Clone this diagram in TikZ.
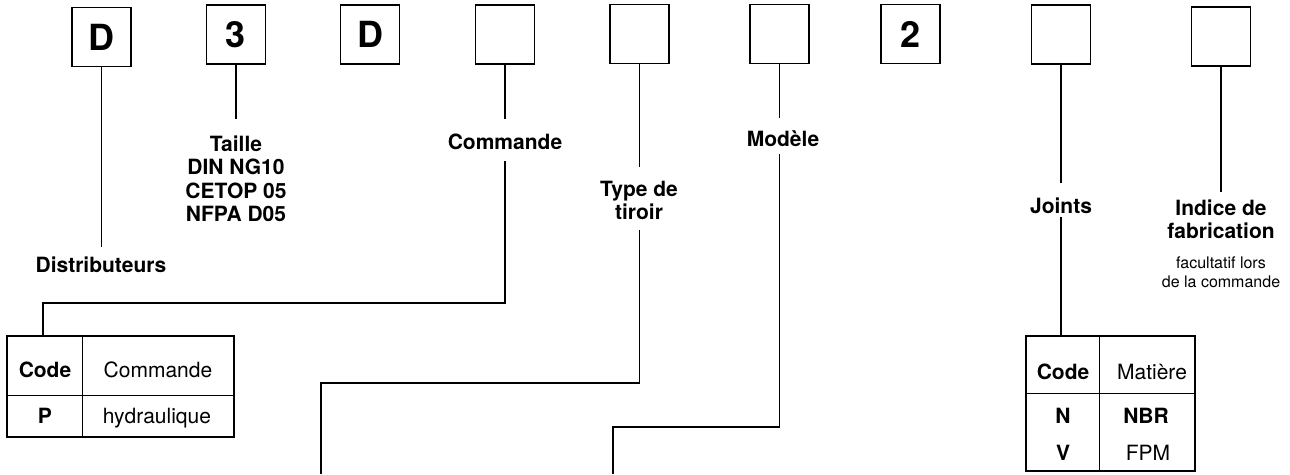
\documentclass[tikz,border=0pt]{standalone}
\usepackage{fontspec}
\setmainfont{TeX Gyre Heros}
\begin{document}
\begin{tikzpicture}[x=1pt,y=-1pt,
  codebox/.style={draw, line width=1.4pt, minimum width=59pt, minimum height=59pt, inner sep=0pt, font=\fontsize{36}{40}\selectfont\bfseries},
  lab/.style={inner sep=0pt, align=center, font=\fontsize{21}{23.5}\selectfont\bfseries},
  notelab/.style={inner sep=0pt, align=center, font=\fontsize{16}{19}\selectfont},
  conn/.style={line width=1.2pt},
  tabframe/.style={draw, line width=1.4pt, inner sep=0pt},
  tabline/.style={line width=1.4pt},
  cellb/.style={inner sep=0pt, anchor=base, font=\fontsize{21}{24}\selectfont\bfseries},
  cellr/.style={inner sep=0pt, anchor=base, font=\fontsize{21}{24}\selectfont}]
\useasboundingbox (0,0) rectangle (1290,474);

% code boxes
\node[codebox] (b1) at (101.5,37) {D};
\node[codebox] (b2) at (236,34.5) {3};
\node[codebox] (b3) at (370,34.5) {D};
\node[codebox] (b4) at (505,34.5) {};
\node[codebox] (b5) at (639.5,34) {};
\node[codebox] (b6) at (779.5,34) {};
\node[codebox] (b7) at (910.5,34) {2};
\node[codebox] (b8) at (1061,34.5) {};
\node[codebox] (b9) at (1221,36.5) {};

% labels
\node[lab, anchor=base] (dist) at (101,272.5) {Distributeurs};
\node[lab, anchor=north] (taille) at (236,135.5) {Taille\\DIN NG10\\CETOP 05\\NFPA D05};
\node[lab, anchor=base] (cmd) at (505,149.5) {Commande};
\node[lab, anchor=north] (tiroir) at (639,180.5) {Type de\\tiroir};
\node[lab, anchor=base] (modele) at (783,146.5) {Modèle};
\node[lab, anchor=base] (joints) at (1061,213.5) {Joints};
\node[lab, anchor=north] (indice) at (1221,199.2) {Indice de\\fabrication};
\node[notelab, anchor=north] (note) at (1221,256.8) {facultatif lors\\de la commande};

% tables
\node[tabframe, minimum width=227pt, minimum height=101pt] (tab1) at (120.5,386.5) {};
\draw[tabline] ([xshift=76pt]tab1.north west) -- ([xshift=76pt]tab1.south west);
\draw[tabline] ([yshift=-60pt]tab1.north west) -- ([yshift=-60pt]tab1.north east);
\node[cellb] (t1c) at (45,377.5) {Code};
\node[cellr] (t1h) at (158,377.5) {Commande};
\node[cellb] (t1p) at (45,423) {P};
\node[cellr] (t1v) at (157,423) {hydraulique};

\node[tabframe, minimum width=169pt, minimum height=135pt] (tab2) at (1110.5,403.5) {};
\draw[tabline] ([xshift=74pt]tab2.north west) -- ([xshift=74pt]tab2.south west);
\draw[tabline] ([yshift=-58pt]tab2.north west) -- ([yshift=-58pt]tab2.north east);
\node[cellb] (t2c) at (1063,379.5) {Code};
\node[cellr] (t2h) at (1152,379.5) {Matière};
\node[cellb] (t2n) at (1063,423) {N};
\node[cellb] (t2nv) at (1146,423) {NBR};
\node[cellb] (t2v) at (1063,460) {V};
\node[cellr] (t2vv) at (1148,460) {FPM};

% connector end points
\coordinate (e1) at (101.5,247);
\coordinate (e2) at (236,119);
\coordinate (e4a) at (505,119);
\coordinate (e4b) at (505,161);
\coordinate (k4a) at (505,303);
\coordinate (k4b) at (43,303);
\coordinate (e5a) at (639.5,167);
\coordinate (e5b) at (639.5,230);
\coordinate (k5a) at (639.5,383);
\coordinate (k5b) at (321,383);
\coordinate (k5c) at (321,474);
\coordinate (e6a) at (779.5,118);
\coordinate (e6b) at (779.5,154);
\coordinate (k6a) at (779.5,427);
\coordinate (k6b) at (613,427);
\coordinate (k6c) at (613,474);
\coordinate (e8a) at (1061,183);
\coordinate (e8b) at (1061,217);
\coordinate (e9) at (1221,192);

% connectors
\draw[conn] (b1.south) -- (e1);
\draw[conn] (b2.south) -- (e2);
\draw[conn] (b4.south) -- (e4a);
\draw[conn] (e4b) -- (k4a) -- (k4b) -- (k4b |- tab1.north);
\draw[conn] (b5.south) -- (e5a);
\draw[conn] (e5b) -- (k5a) -- (k5b) -- (k5c);
\draw[conn] (b6.south) -- (e6a);
\draw[conn] (e6b) -- (k6a) -- (k6b) -- (k6c);
\draw[conn] (b8.south) -- (e8a);
\draw[conn] (e8b) -- (e8b |- tab2.north);
\draw[conn] (b9.south) -- (e9);
\end{tikzpicture}
\end{document}
